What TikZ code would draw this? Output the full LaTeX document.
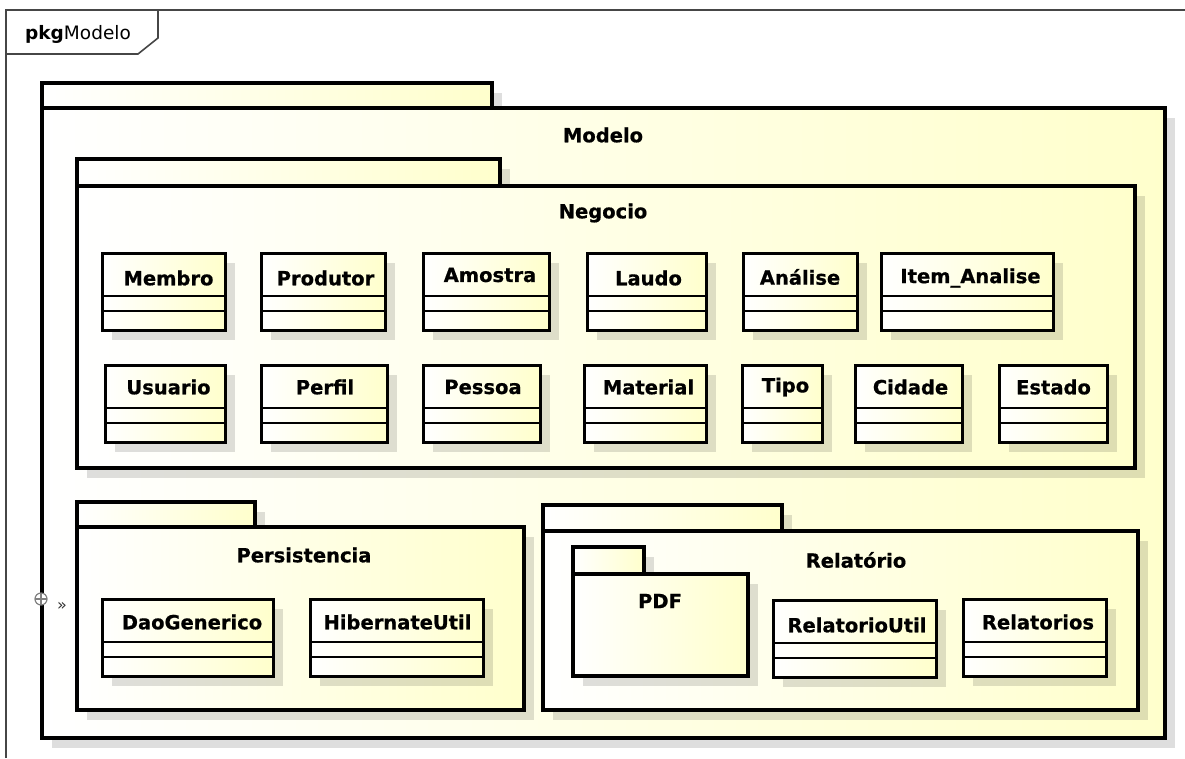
\documentclass[tikz,border=0pt]{standalone}
\usepackage{fontspec}
\setmainfont{DejaVu Sans}
\newfontfamily\lblfont[FakeBold=0.7]{DejaVu Sans Bold}
\definecolor{ylw}{RGB}{255,255,204}
\definecolor{framec}{RGB}{70,70,70}
\tikzset{
  shadowc/.style={fill=black, fill opacity=0.13, draw=none},
  pkgbox/.style={left color=white, right color=ylw, draw=black, line width=3.4pt},
  clsbox/.style={left color=white, right color=ylw, draw=black, line width=3pt},
  sepline/.style={draw=black, line width=1.4pt},
  lbl/.style={font=\lblfont\fontsize{19.5}{22}\selectfont, inner sep=0pt, anchor=center},
}
% class box: name, x1, y1, x2, text x, text y, label
\newcommand\umlcls[7]{%
  \fill[shadowc] (#2+10,#3+10) rectangle (#4+10,#3+87);
  \path[clsbox] (#2,#3) rectangle (#4,#3+77);
  \draw[sepline] (#2,#3+43) -- (#4,#3+43) (#2,#3+58) -- (#4,#3+58);
  \node[lbl] (#1) at (#5,#6) {#7};
}
% package: name, tab x1, tab y1, tab x2, body y1, body x2, body y2, label position and text
\newcommand\umlpkg[8]{%
  \fill[shadowc] (#2+10,#3+10) rectangle (#4+10,#5);
  \fill[shadowc] (#2+10,#5+10) rectangle (#6+10,#7+10);
  \path[pkgbox] (#2,#3) rectangle (#4,#5);
  \path[pkgbox] (#2,#5) rectangle (#6,#7);
  \node[lbl] (#1) at #8;
}
\begin{document}
\begin{tikzpicture}[x=1pt,y=-1pt]
\useasboundingbox[fill=white] (0,0) rectangle (1185,758);

% diagram frame with its name tab
\draw[framec, line width=1.6pt] (6,758) -- (6,10) -- (1185,10);
\draw[framec, line width=1.6pt] (6,54) -- (138,54) -- (158,38) -- (158,10);
\node[inner sep=0pt, anchor=west, font=\fontsize{18.5}{20}\selectfont] (frame) at (25,34) {\textbf{pkg}Modelo};

% package Modelo
\umlpkg{modelo}{42}{83}{492}{108}{1165}{738}{(603,135) {Modelo}}

% package Negocio
\umlpkg{negocio}{77}{159}{500}{186}{1135}{468}{(603,213) {Negocio}}

\umlcls{membro}{102}{253}{225}{168.5}{278}{Membro}
\umlcls{produtor}{261}{253}{385}{325.5}{278}{Produtor}
\umlcls{amostra}{423}{253}{549}{490}{275}{Amostra}
\umlcls{laudo}{587}{253}{706}{648.5}{278}{Laudo}
\umlcls{analise}{743}{253}{857}{800}{277}{Análise}
\umlcls{itemanalise}{881}{253}{1053}{970.5}{278}{Item\_Analise}

\umlcls{usuario}{105}{365}{225}{168.5}{387}{Usuario}
\umlcls{perfil}{261}{365}{387}{325}{387}{Perfil}
\umlcls{pessoa}{423}{365}{540}{483}{387}{Pessoa}
\umlcls{material}{584}{365}{706}{648.5}{387}{Material}
\umlcls{tipo}{742}{365}{822}{785.5}{387}{Tipo}
\umlcls{cidade}{855}{365}{962}{910.5}{387}{Cidade}
\umlcls{estado}{999}{365}{1107}{1053.5}{387}{Estado}

% package Persistencia
\umlpkg{persistencia}{77}{502}{255}{527}{524}{710}{(304,555) {Persistencia}}
\umlcls{daogenerico}{102}{599}{273}{192}{622}{DaoGenerico}
\umlcls{hibernateutil}{310}{599}{483}{397.5}{622}{HibernateUtil}

% package Relatorio with nested PDF package
\umlpkg{relatorio}{543}{505}{782}{531}{1138}{710}{(856,560) {Relatório}}
\umlpkg{pdf}{573}{547}{644}{574}{748}{676}{(660,601) {PDF}}
\umlcls{relatorioutil}{773}{600}{936}{857}{625}{RelatorioUtil}
\umlcls{relatorios}{963}{599}{1106}{1038}{622}{Relatorios}

% expand handle on the left edge of Modelo
\draw[gray, line width=1.2pt, fill=white] (41,599) circle (6);
\draw[gray, line width=1.2pt] (35,599) -- (47,599) (41,593) -- (41,605);
\node[inner sep=0pt, font=\fontsize{16}{16}\selectfont, text=black!80] (expand) at (62,606) {»};
\end{tikzpicture}
\end{document}
